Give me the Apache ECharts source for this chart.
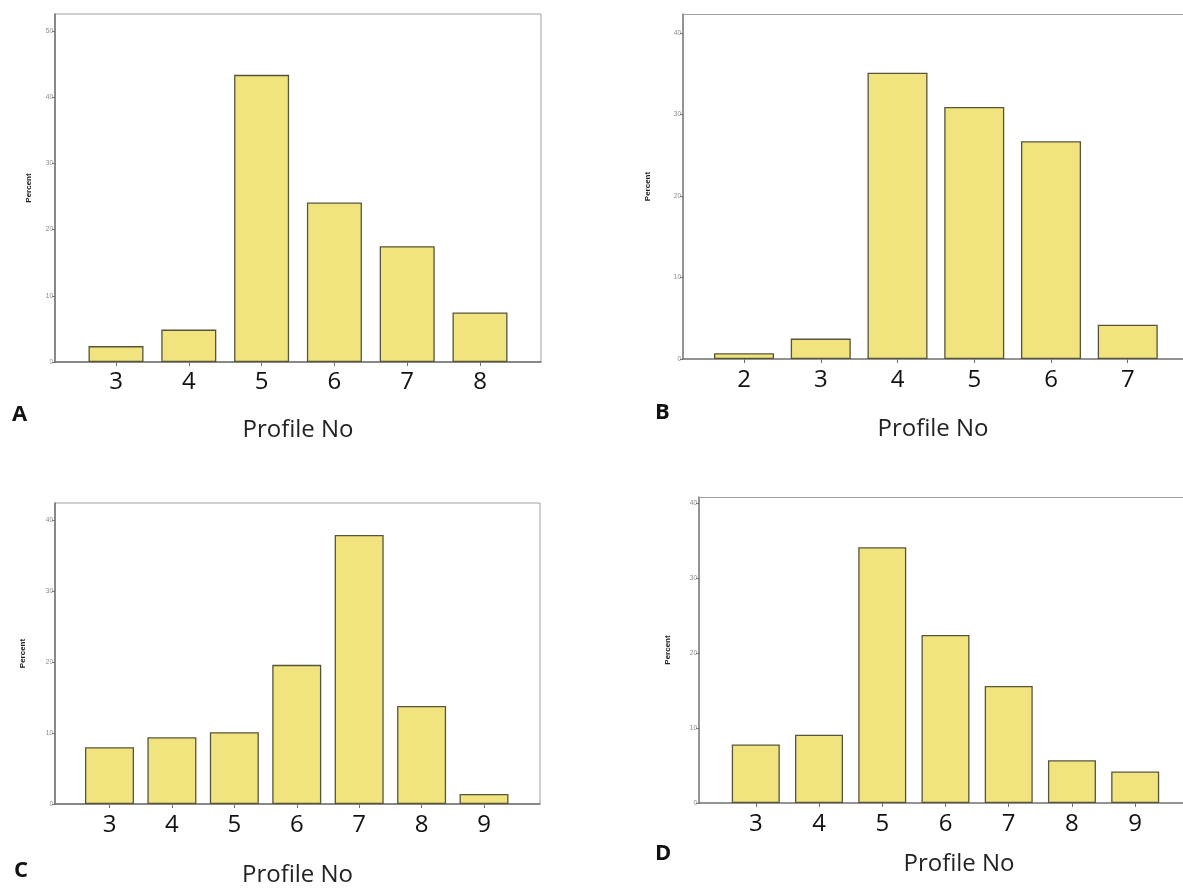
<!DOCTYPE html>
<html>
<head>
<meta charset="utf-8">
<script src="https://cdn.jsdelivr.net/npm/echarts@6/dist/echarts.min.js"></script>
<style>
html,body{margin:0;padding:0;background:#fff;}
#c{width:1183px;height:888px;}
</style>
</head>
<body>
<div id="c"></div>
<script>
// ---- data ----
const catsA = [3, 4, 5, 6, 7, 8];
const valsA = [2.4, 4.9, 43.4, 24.1, 17.5, 7.5];
const catsB = [2, 3, 4, 5, 6, 7];
const valsB = [0.7, 2.5, 35.1, 30.9, 26.7, 4.2];
const catsC = [3, 4, 5, 6, 7, 8, 9];
const valsC = [8.0, 9.4, 10.1, 19.6, 37.9, 13.8, 1.4];
const catsD = [3, 4, 5, 6, 7, 8, 9];
const valsD = [7.8, 9.1, 34.1, 22.4, 15.6, 5.7, 4.2];
const yTicksA = [0, 10, 20, 30, 40, 50];
const yTicksB = [0, 10, 20, 30, 40];
const yTicksC = [0, 10, 20, 30, 40];
const yTicksD = [0, 10, 20, 30, 40];
const xName = 'Profile No';
const yName = 'Percent';
const panelLetters = ['A', 'B', 'C', 'D'];

const panels = [
  {cats: catsA, vals: valsA, yt: yTicksA, grid: {left: 55, top: 14, width: 486, height: 348}, border: true,
   xMin: 2.162, xMax: 8.838, yMax: 52.6, barW: 55, yGap: 22, nameGap: 56, labMargin: 8, namePad: [0,0,0,0]},
  {cats: catsB, vals: valsB, yt: yTicksB, grid: {left: 683, top: 14, width: 500, height: 345}, border: false,
   xMin: 1.205, xMax: 7.72, yMax: 42.3, barW: 60, yGap: 31, nameGap: 58, labMargin: 9, namePad: [0,0,0,0]},
  {cats: catsC, vals: valsC, yt: yTicksC, grid: {left: 55, top: 503, width: 485, height: 301}, border: true,
   xMin: 2.127, xMax: 9.897, yMax: 42.4, barW: 49, yGap: 28, nameGap: 59, labMargin: 9, namePad: [0,0,0,0]},
  {cats: catsD, vals: valsD, yt: yTicksD, grid: {left: 699, top: 497, width: 484, height: 306}, border: false,
   xMin: 2.102, xMax: 9.756, yMax: 40.8, barW: 48, yGap: 27, nameGap: 49, labMargin: 9, namePad: [0,0,0,36]}
];

const font = "'Open Sans', 'Noto Sans', sans-serif";
const grids = [], xAxes = [], yAxes = [], series = [];
panels.forEach((p, i) => {
  grids.push(Object.assign({show: p.border, outerBoundsMode: 'none', containLabel: false,
    borderColor: '#a0a0a0', borderWidth: 1, backgroundColor: 'transparent'}, p.grid));
  xAxes.push({
    type: 'value', gridIndex: i, min: p.xMin, max: p.xMax,
    name: xName, nameLocation: 'middle', nameGap: p.nameGap,
    nameTextStyle: {fontFamily: font, fontSize: 24, color: '#222', padding: p.namePad},
    axisLine: {show: true, onZero: false, lineStyle: {color: '#707070', width: 1.5}},
    axisTick: {show: true, customValues: p.cats, length: 4, lineStyle: {color: '#707070'}},
    axisLabel: {customValues: p.cats, fontFamily: font, fontSize: 24, color: '#111', margin: p.labMargin},
    splitLine: {show: false}
  });
  yAxes.push({
    type: 'value', gridIndex: i, min: 0, max: p.yMax,
    name: yName, nameLocation: 'middle', nameGap: p.yGap,
    nameTextStyle: {fontFamily: 'Liberation Sans, Arial, sans-serif', fontSize: 8, fontWeight: 'bold', color: '#222'},
    axisLine: {show: true, lineStyle: {color: '#707070', width: 1.5}},
    axisTick: {show: true, customValues: p.yt, length: 3, lineStyle: {color: '#707070'}},
    axisLabel: {customValues: p.yt, fontFamily: 'Liberation Sans, Arial, sans-serif', fontSize: 6.5, color: '#888', margin: 2},
    splitLine: {show: false}
  });
  series.push({
    type: 'bar', xAxisIndex: i, yAxisIndex: i, barWidth: p.barW,
    itemStyle: {color: '#f1e47e', borderColor: '#55553c', borderWidth: 1.3},
    data: p.cats.map((c, k) => [c, p.vals[k]])
  });
});
// top frame line for the panels cropped on the right
panels.forEach((p, i) => {
  if (!p.border) {
    xAxes.push({
      type: 'value', gridIndex: i, position: 'top', min: p.xMin, max: p.xMax,
      axisLine: {show: true, onZero: false, lineStyle: {color: '#a0a0a0', width: 1}},
      axisTick: {show: false}, axisLabel: {show: false}, splitLine: {show: false}
    });
  }
});

const letterPos = [[12, 404], [655, 402], [14, 860], [655, 843]];
const graphics = panelLetters.map((t, i) => ({
  type: 'text', left: letterPos[i][0], top: letterPos[i][1],
  style: {text: t, font: "bold 22px 'Open Sans', sans-serif", fill: '#111'}
}));

const chart = echarts.init(document.getElementById('c'), null, {renderer: 'canvas'});
chart.setOption({
  backgroundColor: '#ffffff',
  animation: false,
  grid: grids, xAxis: xAxes, yAxis: yAxes, series: series,
  graphic: graphics
});
</script>
</body>
</html>
